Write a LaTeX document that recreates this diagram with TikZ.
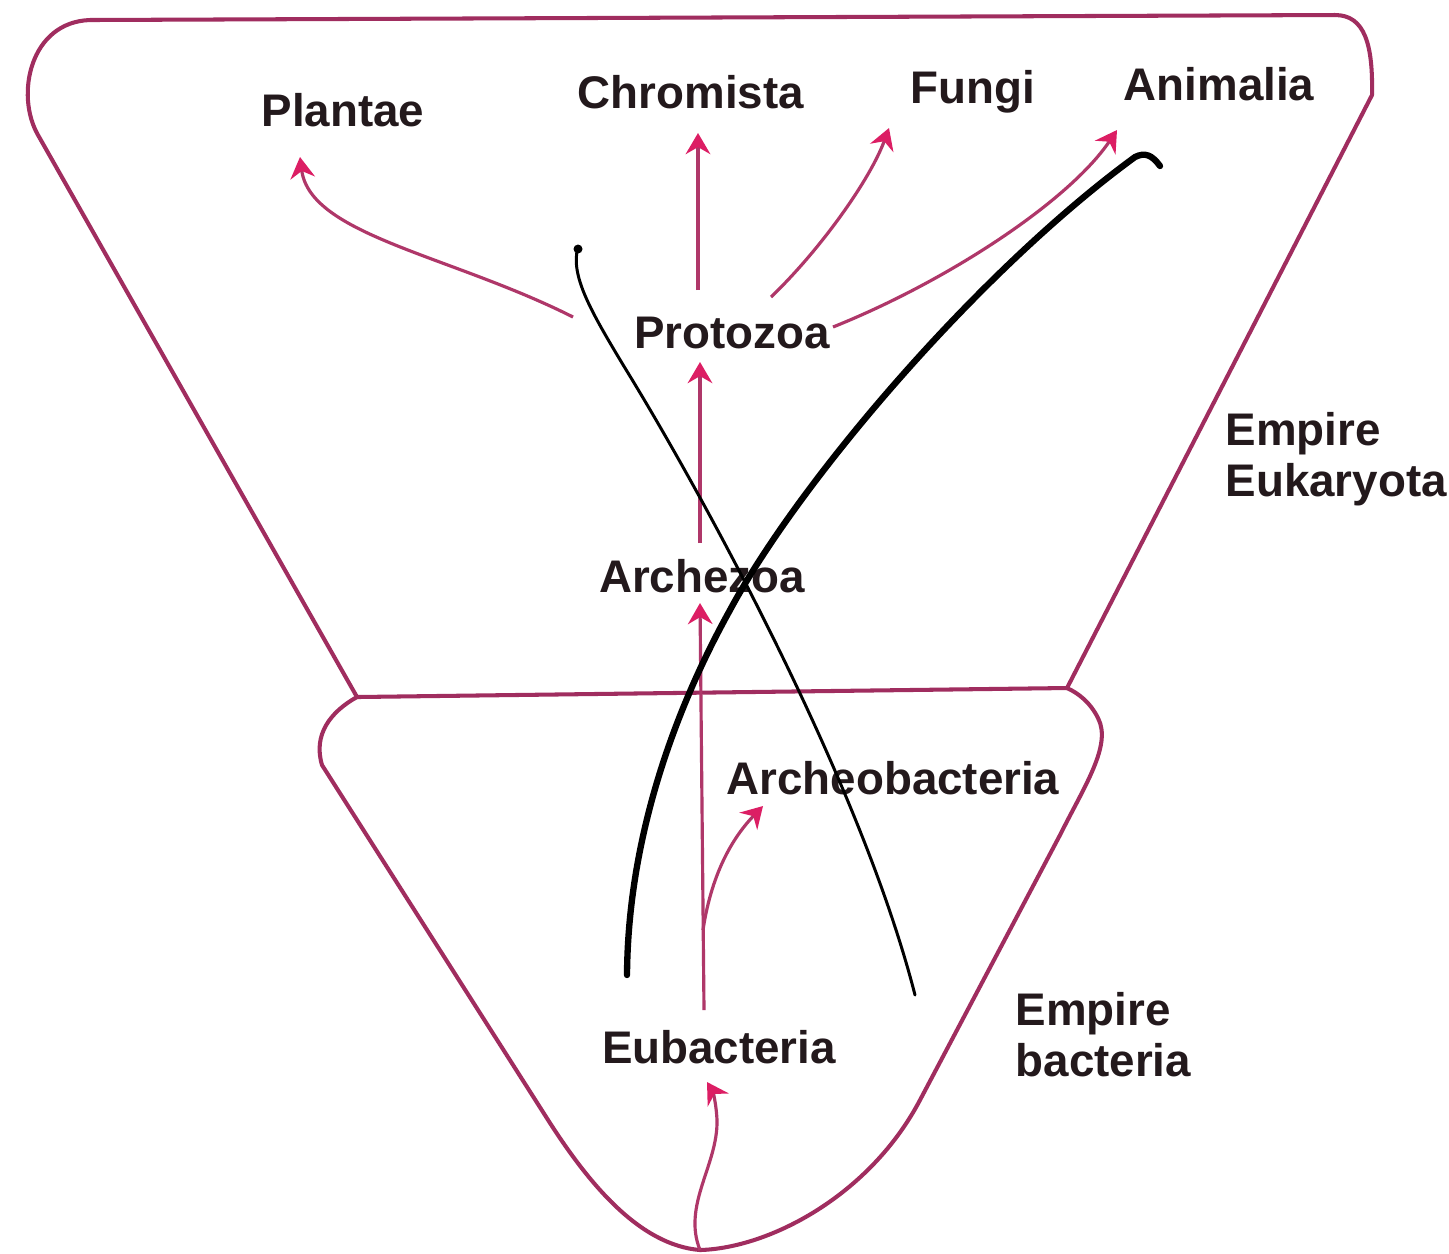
\documentclass[tikz,border=0pt]{standalone}
\usepackage{fontspec}
\setmainfont{Liberation Sans}
\usetikzlibrary{arrows.meta,calc}
\definecolor{outl}{RGB}{160,45,95}
\definecolor{arrc}{RGB}{175,55,105}
\definecolor{tipc}{RGB}{220,30,100}
\definecolor{txt}{RGB}{35,25,28}
\begin{document}
\begin{tikzpicture}[x=0.01cm,y=-0.01cm,
  lbl/.style={font=\fontsize{13}{14.5}\selectfont\bfseries, text=txt, inner sep=0pt, anchor=base},
  elbl/.style={lbl, anchor=north west, align=left},
  outline/.style={draw=outl, line width=1.15pt, line join=round},
  arr/.style={draw=arrc, line width=0.9pt, -{Stealth[length=6pt,width=7pt,inset=2pt,color=tipc]}},
  xthin/.style={draw=black, line cap=round, line width=0.85pt},
  xthick/.style={draw=black, line cap=round, line width=1.8pt}]
\useasboundingbox (0,0) rectangle (1449,1253);
\fill[white] (0,0) rectangle (1449,1253);

% outlines
\coordinate (jl) at (357,697);
\coordinate (jr) at (1067,688);
\coordinate (apex) at (700,1250);
\draw[outline] (jl) -- (38,135) .. controls (15,95) and (30,22) .. (90,20)
  -- (1335,15) .. controls (1365,15) and (1373,45) .. (1372,95) -- (jr);
\draw[outline] (jl) -- (jr);
\draw[outline] (jl) .. controls (330,712) and (313,735) .. (322,765)
  -- (550,1123) .. controls (590,1185) and (640,1245) .. (apex)
  .. controls (770,1248) and (870,1195) .. (920,1100)
  -- (1060,835) .. controls (1085,785) and (1112,745) .. (1098,718)
  .. controls (1090,702) and (1078,693) .. (jr);

% labels
\node[lbl] (plantae) at (343,126) {Plantae};
\node[lbl] (chrom) at (691,108) {Chromista};
\node[lbl] (fungi) at (973,103) {Fungi};
\node[lbl] (anim) at (1219,100) {Animalia};
\node[lbl] (proto) at (732,348) {Protozoa};
\node[lbl] (arche) at (702,592) {Archezoa};
\node[lbl] (archb) at (893,794) {Archeobacteria};
\node[lbl] (eubac) at (719,1063) {Eubacteria};
\node[elbl] (eukar) at (1225,412) {Empire\\Eukaryota};
\node[elbl] (bact) at (1015,992) {Empire\\bacteria};

% arrows
\draw[arr] ($(proto.base)+(-159,-31)$) .. controls (450,255) and (310,235) .. ($(plantae.base)+(-43,31)$);
\draw[arr] ($(proto.base)+(-34,-58)$) -- ($(chrom.base)+(7,25)$);
\draw[arr] ($(proto.base)+(39,-51)$) .. controls (820,250) and (870,180) .. ($(fungi.base)+(-84,25)$);
\draw[arr] ($(proto.base)+(101,-21)$) .. controls (950,280) and (1070,200) .. ($(anim.base)+(-102,30)$);
\draw[arr] ($(arche.base)+(-2,-49)$) -- ($(proto.base)+(-32,14)$);
\draw[arr] ($(eubac.base)+(-15,-53)$) -- ($(arche.base)+(-2,11)$);
\draw[arr] ($(eubac.base)+(-16,-133)$) .. controls (712,870) and (735,835) .. ($(archb.base)+(-130,12)$);
\draw[arr] (apex) .. controls (682,1205) and (718,1165) .. (717,1120)
  .. controls (716,1100) and (712,1090) .. ($(eubac.base)+(-12,19)$);

% hand-drawn cross
\draw[xthin] (578,247) .. controls (570,275) and (590,310) .. (625,368)
  .. controls (700,490) and (860,780) .. (915,995);
\fill[black] (578,249) circle (4.5);
\draw[xthick] (627,975) .. controls (628,830) and (680,700) .. (730,610)
  .. controls (800,480) and (980,270) .. (1135,157)
  .. controls (1145,152) and (1152,155) .. (1160,166);
\end{tikzpicture}
\end{document}
